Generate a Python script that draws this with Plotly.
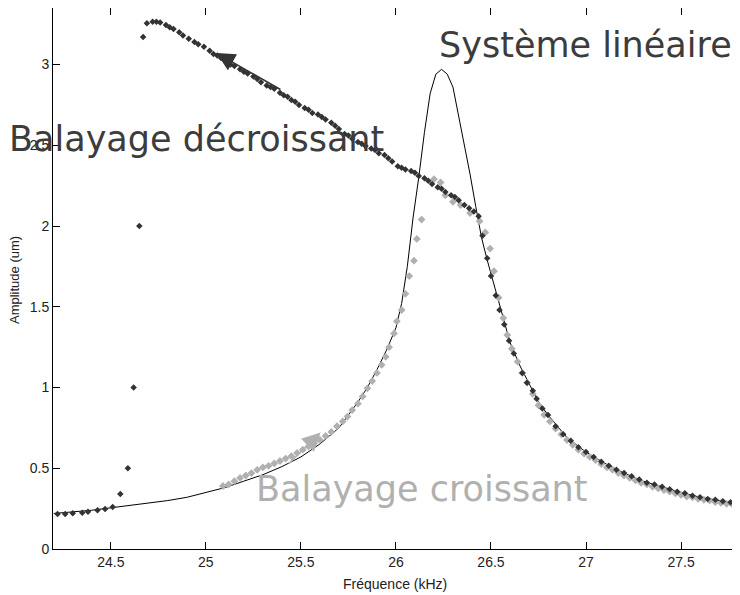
import plotly.graph_objects as go

# ---- Data ----
# Linear system response (solid black line)
lin_freq = [24.20, 24.30, 24.40, 24.50, 24.60, 24.70, 24.80, 24.90, 25.00, 25.10,
            25.20, 25.30, 25.40, 25.50, 25.60, 25.70, 25.80, 25.85, 25.90, 25.95,
            26.00, 26.03, 26.06, 26.09, 26.12, 26.15, 26.18, 26.21, 26.24, 26.27,
            26.30, 26.33, 26.36, 26.39, 26.42, 26.45, 26.48, 26.52, 26.56, 26.60,
            26.65, 26.70, 26.75, 26.80, 26.90, 27.00, 27.10, 27.20, 27.30, 27.40,
            27.50, 27.60, 27.70, 27.80, 27.82]
lin_amp = [0.22, 0.23, 0.24, 0.255, 0.27, 0.285, 0.30, 0.32, 0.35, 0.38,
           0.42, 0.46, 0.51, 0.57, 0.65, 0.75, 0.91, 1.00, 1.11, 1.23,
           1.37, 1.52, 1.75, 2.05, 2.30, 2.58, 2.82, 2.94, 2.97, 2.94,
           2.86, 2.68, 2.52, 2.32, 2.12, 1.93, 1.79, 1.62, 1.44, 1.28,
           1.14, 1.02, 0.91, 0.83, 0.69, 0.60, 0.53, 0.47, 0.42, 0.385,
           0.35, 0.32, 0.30, 0.28, 0.278]

# Decreasing sweep (dark diamonds), in sweep order
dec_freq = [27.80, 27.76, 27.72, 27.68, 27.64, 27.60, 27.56, 27.52, 27.48, 27.44,
            27.40, 27.36, 27.32, 27.28, 27.24, 27.20, 27.16, 27.12, 27.08, 27.04,
            27.00, 26.96, 26.92, 26.88, 26.84, 26.80, 26.77, 26.74, 26.72, 26.69,
            26.665, 26.62, 26.595, 26.57, 26.545, 26.525, 26.50, 26.48, 26.455, 26.435,
            26.41, 26.385, 26.36, 26.33, 26.31, 26.29, 26.26, 26.24, 26.22, 26.19,
            26.17, 26.15, 26.12, 26.10, 26.08, 26.05, 26.03, 26.01, 25.98, 25.96,
            25.94, 25.91, 25.89, 25.87, 25.84, 25.82, 25.80, 25.77, 25.75, 25.73,
            25.70, 25.68, 25.66, 25.63, 25.61, 25.59, 25.56, 25.54, 25.52, 25.49,
            25.47, 25.45, 25.43, 25.41, 25.39, 25.36, 25.34, 25.32, 25.29, 25.27,
            25.25, 25.22, 25.20, 25.18, 25.15, 25.13, 25.11, 25.08, 25.06, 25.04,
            25.02, 24.99, 24.96, 24.94, 24.91, 24.88, 24.86, 24.83, 24.81, 24.79,
            24.76, 24.74, 24.72, 24.69, 24.67, 24.65, 24.62, 24.59, 24.55, 24.51,
            24.47, 24.43, 24.38, 24.35, 24.30, 24.26, 24.22]
dec_amp = [0.28, 0.29, 0.295, 0.305, 0.31, 0.32, 0.33, 0.345, 0.355, 0.37,
           0.385, 0.40, 0.41, 0.43, 0.45, 0.47, 0.49, 0.515, 0.54, 0.57,
           0.60, 0.63, 0.67, 0.71, 0.76, 0.83, 0.87, 0.93, 0.98, 1.03,
           1.09, 1.21, 1.29, 1.39, 1.48, 1.57, 1.69, 1.80, 1.94, 2.06,
           2.09, 2.11, 2.13, 2.16, 2.18, 2.19, 2.21, 2.23, 2.24, 2.26,
           2.28, 2.295, 2.31, 2.33, 2.34, 2.35, 2.36, 2.37, 2.40, 2.42,
           2.44, 2.45, 2.47, 2.48, 2.495, 2.51, 2.52, 2.54, 2.56, 2.57,
           2.60, 2.62, 2.64, 2.66, 2.675, 2.69, 2.70, 2.72, 2.73, 2.75,
           2.77, 2.78, 2.80, 2.81, 2.825, 2.85, 2.86, 2.87, 2.89, 2.91,
           2.925, 2.945, 2.955, 2.97, 2.99, 3.00, 3.02, 3.04, 3.055, 3.065,
           3.085, 3.11, 3.125, 3.14, 3.16, 3.18, 3.20, 3.22, 3.23, 3.245,
           3.26, 3.265, 3.265, 3.255, 3.17, 2.00, 1.00, 0.50, 0.34, 0.26,
           0.248, 0.24, 0.231, 0.225, 0.221, 0.217, 0.217]

# Increasing sweep (light grey diamonds), in sweep order
inc_freq = [25.09, 25.12, 25.15, 25.18, 25.21, 25.24, 25.27, 25.30, 25.33, 25.36,
            25.39, 25.42, 25.45, 25.48, 25.51, 25.54, 25.57, 25.60, 25.63, 25.66,
            25.69, 25.72, 25.745, 25.77, 25.80, 25.825, 25.85, 25.875, 25.90, 25.925,
            25.946, 25.964, 25.99, 26.005, 26.03, 26.05, 26.07, 26.095, 26.11, 26.135,
            26.20, 26.235, 26.26, 26.30, 26.34, 26.39, 26.44, 26.47, 26.495, 26.516,
            26.54, 26.565, 26.586, 26.61, 26.64, 26.665, 26.69, 26.72, 26.75, 26.78,
            26.81, 26.84, 26.87, 26.90, 26.93, 26.96, 26.99, 27.02, 27.05, 27.08,
            27.11, 27.14, 27.17, 27.20, 27.23, 27.26, 27.29, 27.32, 27.35, 27.38,
            27.41, 27.44, 27.47, 27.50, 27.53, 27.56, 27.59, 27.62, 27.65, 27.68,
            27.71, 27.74, 27.77, 27.80]
inc_amp = [0.39, 0.40, 0.42, 0.44, 0.455, 0.47, 0.49, 0.505, 0.515, 0.53,
           0.545, 0.56, 0.575, 0.595, 0.615, 0.635, 0.655, 0.675, 0.70, 0.725,
           0.76, 0.79, 0.82, 0.86, 0.90, 0.945, 0.995, 1.04, 1.09, 1.14,
           1.19, 1.25, 1.335, 1.41, 1.48, 1.58, 1.69, 1.785, 1.92, 2.04,
           2.29, 2.27, 2.19, 2.15, 2.13, 2.08, 2.03, 1.96, 1.86, 1.72,
           1.556, 1.43, 1.325, 1.24, 1.16, 1.09, 1.03, 0.96, 0.89, 0.83,
           0.79, 0.745, 0.71, 0.675, 0.645, 0.615, 0.59, 0.57, 0.55, 0.525,
           0.505, 0.49, 0.47, 0.455, 0.44, 0.425, 0.41, 0.40, 0.385, 0.375,
           0.365, 0.355, 0.345, 0.335, 0.325, 0.32, 0.31, 0.305, 0.30, 0.29,
           0.285, 0.28, 0.275, 0.27]

x_ticks = [24.5, 25, 25.5, 26, 26.5, 27, 27.5]
y_ticks = [0, 0.5, 1, 1.5, 2, 2.5, 3]

DARK = "#333333"
GREY = "#b0b0b0"

fig = go.Figure()
fig.add_trace(go.Scatter(x=lin_freq, y=lin_amp, mode="lines",
                         line=dict(color="black", width=1), showlegend=False,
                         hoverinfo="skip"))
fig.add_trace(go.Scatter(x=inc_freq, y=inc_amp, mode="markers",
                         marker=dict(symbol="diamond", size=6, color=GREY),
                         showlegend=False))
fig.add_trace(go.Scatter(x=dec_freq, y=dec_amp, mode="markers",
                         marker=dict(symbol="diamond", size=5, color=DARK),
                         showlegend=False))

# Arrows
fig.add_annotation(x=25.056, y=3.071, ax=25.40, ay=2.84, xref="x", yref="y",
                   axref="x", ayref="y", text="", showarrow=True,
                   arrowhead=2, arrowsize=2.3, arrowwidth=1.6, arrowcolor=DARK,
                   standoff=0, startstandoff=0)
fig.add_annotation(x=25.604, y=0.722, ax=25.428, ay=0.52, xref="x", yref="y",
                   axref="x", ayref="y", text="", showarrow=True,
                   arrowhead=2, arrowsize=2.3, arrowwidth=1.6, arrowcolor=GREY,
                   standoff=0, startstandoff=0)

# The page body adds an 8 px offset; figure pixel = page pixel - 8
OFF = 8
W, H = 740 - OFF, 595 - OFF
PLOT_L, PLOT_R, PLOT_T, PLOT_B = 53, 740, 8, 549   # page pixels of the plot area
L = PLOT_L - OFF
R = (740 - OFF) - (PLOT_R - OFF)
T = PLOT_T - OFF
B = H - (PLOT_B - OFF)
pw, ph = W - L - R, H - T - B


def px(xp):
    return (xp - PLOT_L) / pw


def py(yp):
    return (PLOT_B - yp) / ph


big = dict(family="DejaVu Sans", size=35)
fig.add_annotation(x=px(7), y=py(139), xref="paper", yref="paper",
                   text="Balayage décroissant", showarrow=False,
                   xanchor="left", yanchor="middle",
                   font=dict(big, color="#3c3c3c"))
fig.add_annotation(x=px(437), y=py(45), xref="paper", yref="paper",
                   text="Système linéaire", showarrow=False,
                   xanchor="left", yanchor="middle",
                   font=dict(big, color="#3c3c3c"))
fig.add_annotation(x=px(254), y=py(489), xref="paper", yref="paper",
                   text="Balayage croissant", showarrow=False,
                   xanchor="left", yanchor="middle",
                   font=dict(big, color=GREY))

# Axis titles
fig.add_annotation(x=px(395), y=py(584), xref="paper", yref="paper",
                   text="Fréquence (kHz)", showarrow=False,
                   xanchor="center", yanchor="middle",
                   font=dict(family="Liberation Sans", size=14, color="#222"))
fig.add_annotation(x=px(15), y=py(280), xref="paper", yref="paper",
                   text="Amplitude (um)", showarrow=False, textangle=-90,
                   xanchor="center", yanchor="middle",
                   font=dict(family="Liberation Sans", size=13, color="#222"))

axis_common = dict(showline=True, linecolor="black", linewidth=1,
                   mirror="ticks", ticks="inside", ticklen=7,
                   tickcolor="black", tickwidth=1, showgrid=False,
                   zeroline=False,
                   tickfont=dict(family="Liberation Sans", size=14, color="#222"))

fig.update_xaxes(range=[24.196, 27.81], tickvals=x_ticks,
                 ticktext=[f"{v:g}" for v in x_ticks], **axis_common)
fig.update_yaxes(range=[0, (PLOT_B - PLOT_T) / 161.5], tickvals=y_ticks,
                 ticktext=[f"{v:g}" for v in y_ticks], **axis_common)

fig.update_layout(width=W, height=H, margin=dict(l=L, r=R, t=T, b=B, pad=0),
                  paper_bgcolor="white", plot_bgcolor="white",
                  showlegend=False)

fig.write_html("out.html")
